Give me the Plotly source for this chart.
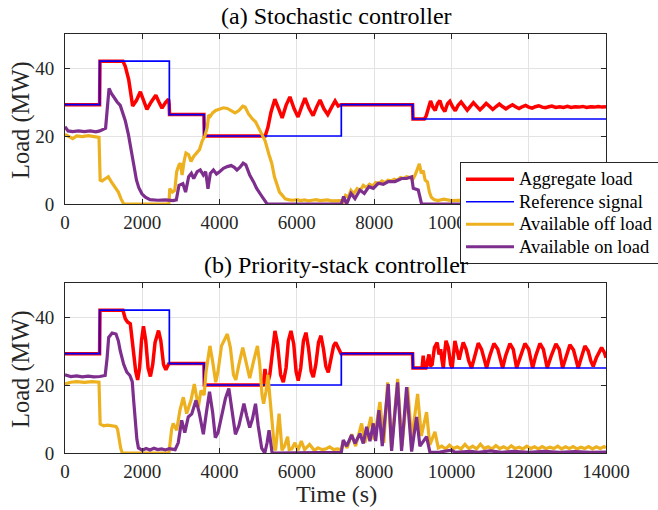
import plotly.graph_objects as go

# ---------------- data ----------------
ref_t = [0, 900, 2700, 3600, 7150, 9000, 14000]
ref_y = [29.2, 42, 26.3, 20, 29.2, 25, 25]

# (a) Stochastic controller
agg_a_t = [0, 895, 905, 1500, 1560, 1650, 1750, 1850, 1950, 2030, 2120, 2230, 2350, 2430, 2510, 2600,
           2680, 2695, 2705, 3595, 3605, 5180, 5250, 5330, 5430, 5530, 5620, 5720, 5820, 5930, 6030,
           6120, 6210, 6320, 6420, 6510, 6600, 6700, 6800, 6900, 6990, 7070, 7145, 8995, 9005, 9300,
           9350, 9400, 9460, 9520, 9580, 9640, 9700, 9760, 9830, 9900, 9960, 10030, 10100, 10170,
           10250, 10330, 10410, 10490, 10570, 10650, 10740, 10820, 10900, 10990, 11070, 11150, 11240,
           11330, 11410, 11490, 11580, 11660, 11750, 11830, 11920, 12000, 12090, 12170, 12260, 12350,
           12430, 12520, 12600, 12700, 12800, 12900, 13000, 13100, 13200, 13300, 13400, 13500, 13600,
           13700, 13800, 13900, 14000]
agg_a_y = [29.2, 29.2, 42, 42, 40.5, 36.5, 28.8, 30.5, 33, 30.5, 27.8, 30, 32, 30, 28.2, 29.8,
           30.8, 29.5, 26.3, 26.3, 20, 20, 22.5, 27, 30.8, 28, 25.3, 29, 31.5, 28, 25.6,
           28.5, 31.1, 28, 26, 28.5, 30.6, 28, 26.3, 28.5, 30.3, 28.8, 29.2, 29.2, 25, 25,
           26, 28, 30.3, 28.5, 27.5, 29.5, 30.4, 28.4, 27.2, 29.5, 30.2, 28.6, 27.4, 29,
           30.0, 28.8, 27.6, 28.7, 29.8, 28.8, 27.7, 28.6, 29.6, 28.7, 27.8, 28.6, 29.4,
           28.6, 28.0, 28.6, 29.2, 28.6, 28.1, 28.6, 29.0, 28.5, 28.2, 28.6, 28.9, 28.5,
           28.3, 28.6, 28.8, 28.4, 28.6, 28.4, 28.7, 28.4, 28.6, 28.5, 28.7, 28.4, 28.6,
           28.5, 28.7, 28.5, 28.6]

off_a_t = [0, 100, 200, 300, 450, 600, 750, 880, 910, 960, 1050, 1120, 1200, 1280, 1380, 1450, 1520,
           2690, 2710, 2780, 2840, 2890, 2950, 2990, 3030, 3080, 3130, 3200, 3260, 3330, 3400, 3480,
           3550, 3620, 3680, 3720, 3760, 3820, 3900, 4000, 4100, 4200, 4300, 4400, 4500, 4600, 4660,
           4750, 4850, 4930, 5050, 5180, 5280, 5350, 5420, 5480, 5550, 5620, 5700, 5800, 5900, 6000,
           6100, 6200, 6300, 6400, 6500, 6600, 6700, 6800, 6900, 7000, 7150, 7200, 7260, 7330, 7400,
           7470, 7560, 7640, 7720, 7800, 7880, 7960, 8040, 8120, 8200, 8280, 8360, 8440, 8520, 8600,
           8680, 8760, 8840, 8920, 9000, 9060, 9120, 9170, 9220, 9270, 9320, 9380, 9430, 9480, 9550,
           9650, 9800, 10000, 10500, 11000, 11500, 12000, 12500, 13000, 13500, 14000]
off_a_y = [20.5, 19.8, 19.2, 20, 19.8, 20.1, 19.8, 19.6, 7, 6.8, 7.5, 8, 6.5, 5, 3.5, 1.5, 0,
           0, 4.5, 3.5, 4, 9.5, 11.5, 12, 8.5, 12.5, 15, 14.5, 12.5, 14, 15, 16,
           18.5, 20, 22.5, 26.2, 25.8, 26.8, 27.5, 28, 28.3, 28.1, 27.5, 26.8, 27.5, 28.8, 28.5,
           26.5, 25, 24.2, 21.5, 18.5, 14.5, 12, 8, 6, 3.5, 2.6, 1.5, 1.2, 1.1, 1.3,
           1, 1.2, 0.9, 1.1, 1.3, 1, 1.1, 1.2, 0.9, 1, 1, 0.5, 2.5, 2, 4,
           3, 4.5, 4, 5.5, 4.8, 5.8, 5.3, 6.3, 6, 6.8, 6.3, 7, 6.8, 7.3, 7,
           7.8, 7.5, 8, 7.8, 7.2, 8.5, 10, 11.8, 9, 9.8, 7, 6.5, 3.5, 2, 1.3,
           1, 1.4, 1, 1.2, 1, 1.1, 1, 1.2, 1, 1.1, 1]

on_a_t = [0, 80, 200, 350, 500, 650, 800, 900, 1050, 1110, 1140, 1200, 1270, 1350, 1430, 1500, 1560,
          1640, 1700, 1780, 1850, 1910, 1990, 2080, 2200, 2400, 2600, 2800, 2880, 2950, 3050, 3120,
          3200, 3270, 3330, 3420, 3500, 3580, 3640, 3700, 3760, 3840, 3920, 4000, 4100, 4200, 4300,
          4380, 4450, 4530, 4610, 4680, 4780, 4880, 4960, 5080, 5200, 5230, 7150, 7210, 7288, 7400,
          7504, 7633, 7745, 7866, 7978, 8107, 8236, 8365, 8538, 8711, 8840, 8970, 9013, 9142, 9228,
          14000]
on_a_y = [22.7, 21.5, 21.3, 21.5, 21.3, 21.5, 21.2, 21.5, 22.3, 30, 34, 32.5, 31.3, 30, 29, 26.5, 24.5,
          20.5, 16.5, 11, 7, 4.8, 3, 2, 1.3, 1.1, 1.2, 1, 1.2, 5.5, 6, 3.5,
          8, 9, 7.5, 9.5, 10, 8.5, 9.5, 4.5, 9, 10, 8.8, 9.5, 10.5, 11, 11.3,
          10.8, 10, 10.8, 12, 11.5, 8.5, 6.5, 4.6, 2.5, 0.3, 0, 0, 2.2, 0, 3.1,
          1.6, 4.1, 3.1, 5.1, 4.6, 6.1, 5.8, 6.6, 6.6, 7.5, 7.5, 8, 4.6, 4.1, 0,
          0]

# (b) Priority-stack controller
agg_b_t = [0, 895, 905, 1500, 1560, 1620, 1690, 1760, 1830, 1880, 1930, 1980, 2030, 2090, 2150, 2210,
           2270, 2330, 2420, 2480, 2550, 2610, 2660, 2695, 2705, 3595, 3605, 5130, 5175, 5233, 5300,
           5360, 5433, 5500, 5580, 5649, 5720, 5780, 5848, 5920, 5980, 6036, 6100, 6170, 6235, 6300,
           6370, 6425, 6490, 6560, 6624, 6690, 6750, 6813, 6880, 6950, 7004, 7060, 7145, 8995, 9005,
           9240, 9270, 9300, 9340, 9380, 9420, 9450, 9500, 9560, 9630, 9680, 9720, 9760, 9790, 9820,
           9860, 9920, 9980, 10020, 10050, 10090, 10150, 10200, 10250, 10306, 10380, 10450, 10522,
           10600, 10694, 10780, 10850, 10910, 10990, 11100, 11200, 11270, 11325, 11400, 11514, 11600,
           11650, 11687, 11790, 11902, 12000, 12060, 12101, 12180, 12290, 12380, 12440, 12479, 12580,
           12704, 12790, 12840, 12876, 12960, 13066, 13160, 13230, 13281, 13360, 13454, 13540, 13610,
           13669, 13750, 13886, 13960, 14000]
agg_b_y = [29.2, 29.2, 42, 42, 39.5, 38.5, 38, 31, 24, 21.5, 25, 33, 37.3, 33, 25, 22.5,
           26, 32.5, 36, 33, 26, 24.5, 26, 26.5, 26.3, 26.3, 20, 20, 24.7, 20, 23,
           30, 35.9, 32, 23, 20.8, 25, 33, 35.9, 32, 24, 21.3, 25, 33, 35.4, 31,
           24, 22.3, 26, 32.5, 34.5, 30.5, 25.5, 23.7, 27, 31.5, 32.5, 31, 29.2, 29.2, 25,
           25, 28.6, 25, 25, 27, 29, 25.5, 26, 31, 32.5, 29, 30.5, 27, 25, 29,
           33, 31, 26, 25, 29, 33, 30, 27.5, 30, 32.5, 30.5, 27, 25,
           28, 32.3, 30.5, 27, 25, 28.5, 32.2, 30.5, 27, 25, 28.5, 32.2, 30.5,
           27, 25, 28.5, 32.2, 30.5, 27, 25, 28.5, 32.2, 30.5, 27, 25, 28.5,
           32.1, 30.5, 27, 25, 28, 31.8, 30.3, 27, 25, 28, 31.5, 30, 27,
           25.5, 28, 31, 29.5, 28]

off_b_t = [0, 150, 300, 500, 700, 880, 910, 1000, 1100, 1200, 1320, 1360, 1390, 1440, 1480, 2690, 2720,
           2760, 2800, 2850, 2890, 2975, 3062, 3148, 3260, 3346, 3450, 3519, 3600, 3650, 3750, 3820,
           3900, 3960, 4050, 4200, 4280, 4360, 4420, 4500, 4600, 4680, 4780, 4880, 4980, 5040, 5100,
           5140, 5200, 5250, 5300, 5350, 5420, 5450, 5500, 5540, 5580, 5615, 5680, 5761, 5800, 5870,
           5950, 6030, 6115, 6200, 6330, 6450, 6550, 6650, 6750, 6850, 6950, 7050, 7150, 7200, 7300,
           7420, 7520, 7676, 7760, 7917, 8000, 8150, 8250, 8349, 8450, 8608, 8720, 8866, 8970, 9125,
           9220, 9357, 9440, 9573, 9660, 9750, 9850, 9950, 10050, 10150, 10250, 10350, 10450, 10550,
           10650, 10750, 10850, 10950, 11050, 11150, 11250, 11350, 11450, 11550, 11650, 11750, 11850,
           11950, 12050, 12150, 12250, 12350, 12450, 12550, 12650, 12750, 12850, 12950, 13050, 13150,
           13250, 13350, 13450, 13550, 13650, 13750, 13850, 13950, 14000]
off_b_y = [20.3, 20.8, 21, 20.8, 21, 20.8, 8.5, 8, 8.2, 8, 7.8, 7, 4.8, 1.5, 0, 0, 3,
           7, 8.7, 7.5, 6.7, 12.6, 16.4, 11.6, 15.5, 20.3, 13.5, 18.4, 17, 24, 31.5, 27,
           20.8, 24, 31.5, 35, 31, 23, 21.5, 26, 31, 27, 22, 27, 31.5, 26, 17,
           14.5, 18, 23, 17, 8.7, 1.5, 0.8, 6, 11.6, 6, 0.8, 2, 4.8, 1, 1.2,
           3, 0.8, 3.5, 1, 2.5, 0.8, 1.5, 1, 1.2, 1.8, 1, 1.2, 1, 3.5, 1.5,
           5.5, 2, 8.7, 3, 10.6, 4, 15, 3, 20.8, 1.5, 21.8, 2, 19.4, 4, 17.4,
           5, 12, 2.4, 6.2, 1.5, 2, 1.2, 2.3, 1.3, 1.8, 1.2, 2.5, 1.3, 2,
           1.2, 2.6, 1.3, 1.8, 1.2, 2.2, 1.3, 1.8, 1.2, 2.1, 1.3, 1.7, 1.2,
           2, 1.3, 1.8, 1.2, 1.9, 1.3, 1.7, 1.3, 2, 1.2, 1.8, 1.3, 1.9,
           1.2, 1.7, 1.3, 1.9, 1.2, 1.8, 1.3, 1.9, 1.5]

on_b_t = [0, 150, 300, 450, 600, 750, 900, 1040, 1090, 1130, 1220, 1320, 1380, 1430, 1520, 1600, 1680,
          1740, 1780, 1820, 1860, 1900, 2000, 2100, 2200, 2300, 2400, 2500, 2600, 2700, 2850, 2930,
          3020, 3100, 3190, 3280, 3390, 3470, 3580, 3660, 3740, 3820, 3890, 3960, 4060, 4150, 4240,
          4320, 4410, 4500, 4630, 4700, 4780, 4850, 4930, 5000, 5090, 5170, 5230, 5280, 5330, 5360,
          7150, 7202, 7288, 7418, 7504, 7633, 7719, 7806, 7892, 7978, 8038, 8124, 8210, 8365, 8452,
          8607, 8710, 8840, 8970, 9099, 9185, 9357, 9444, 9700, 10000, 10100, 10500, 10700, 11000,
          11300, 11600, 12000, 12400, 12800, 13200, 13600, 14000]
on_b_y = [23, 22.5, 22.7, 22.4, 22.6, 22.4, 22.5, 22.8, 28, 34, 35.3, 35, 33, 30, 26, 23.8, 22.8,
          21, 15, 9.6, 4, 1.5, 0.8, 1.3, 0.9, 1.4, 1, 1.2, 0.9, 1.3, 1, 3,
          9.6, 6, 10.6, 11.5, 15.5, 12, 5.5, 12, 18, 12, 4.5, 6, 11, 16, 19,
          13, 5.5, 8, 14.5, 11, 7.5, 10, 14.5, 8, 1.4, 0, 3, 6.7, 2, 0,
          0.2, 3.8, 2, 5.3, 2.8, 5.7, 2.8, 7.7, 3.5, 8.7, 3.5, 12.6, 2, 20.3, 0.6,
          20.8, 0.6, 19.4, 0.4, 10.6, 2, 4.8, 0.2, 0.3, 0.8, 0.2, 0.5, 0.2, 0.6,
          0.2, 0.5, 0.2, 0.5, 0.2, 0.4, 0.2, 0.3]

x_ticks = [0, 2000, 4000, 6000, 8000, 10000, 12000, 14000]
x_tick_labels = ["0", "2000", "4000", "6000", "8000", "10000", "12000", "14000"]
y_ticks = [0, 20, 40]
y_tick_labels = ["0", "20", "40"]

names = ["Aggregate load", "Reference signal", "Available off load", "Available on load"]
colors = ["#FF0000", "#0000FF", "#EDB120", "#7E2F8E"]
widths = [3.5, 1.7, 3.2, 3.2]

FONT = "Liberation Serif"
TXT = "#262626"
LEG_TXT = 18.5   # visible legend text size; row pitch is set by the legend font size

fig = go.Figure()

panels = [
    ("x", "y", agg_a_t, agg_a_y, off_a_t, off_a_y, on_a_t, on_a_y, True),
    ("x2", "y2", agg_b_t, agg_b_y, off_b_t, off_b_y, on_b_t, on_b_y, False),
]
for xa, ya, at, ay, ot, oy, nt, ny, show in panels:
    series = [(at, ay, "linear"), (ref_t, ref_y, "hv"), (ot, oy, "linear"), (nt, ny, "linear")]
    for i, (t, v, shape) in enumerate(series):
        fig.add_trace(go.Scatter(
            x=t, y=v, mode="lines",
            name=f'<span style="font-size:{LEG_TXT}px">{names[i]}</span>',
            xaxis=xa, yaxis=ya,
            line=dict(color=colors[i], width=widths[i], shape=shape),
            showlegend=show,
        ))

axis_common = dict(
    showline=True, linecolor=TXT, linewidth=1, mirror="ticks",
    ticks="inside", ticklen=5, tickcolor=TXT, tickwidth=1,
    showgrid=True, gridcolor="#E3E3E3", gridwidth=1, zeroline=False,
    automargin=False,
    tickfont=dict(family=FONT, size=19, color=TXT),
)

W, H = 658, 510
L, R, T, B = 65, 52, 34, 57
PH = H - T - B  # 419
PW = W - L - R  # 541
dom_top = [249 / PH, 1.0]
dom_bot = [0.0, 170 / PH]


def py(page_y):
    return (H - B - page_y) / PH


def px(page_x):
    return (page_x - L) / PW


fig.update_layout(
    width=W, height=H,
    margin=dict(l=L, r=R, t=T, b=B, autoexpand=False),
    paper_bgcolor="white", plot_bgcolor="white",
    font=dict(family=FONT, color=TXT),
    xaxis=dict(domain=[0, 1], anchor="y", range=[0, 14000], tickvals=x_ticks, ticktext=x_tick_labels,
               ticklabelstandoff=1, **axis_common),
    yaxis=dict(domain=dom_top, anchor="x", range=[0, 50], tickvals=y_ticks, ticktext=y_tick_labels,
               ticklabelstandoff=6, **axis_common),
    xaxis2=dict(domain=[0, 1], anchor="y2", range=[0, 14000], tickvals=x_ticks, ticktext=x_tick_labels,
                ticklabelstandoff=1, **axis_common),
    yaxis2=dict(domain=dom_bot, anchor="x2", range=[0, 50], tickvals=y_ticks, ticktext=y_tick_labels,
                ticklabelstandoff=6, **axis_common),
    legend=dict(
        x=px(460), y=py(162), xanchor="left", yanchor="top",
        bgcolor="white", bordercolor=TXT, borderwidth=1,
        font=dict(family=FONT, size=15, color="#000000"),
        itemwidth=48, tracegroupgap=0,
    ),
    annotations=[
        dict(text="(a) Stochastic controller", x=px(336), y=py(16), xref="paper", yref="paper",
             xanchor="center", yanchor="middle", showarrow=False,
             font=dict(family=FONT, size=24, color="#000000")),
        dict(text="(b) Priority-stack controller", x=px(336), y=py(265), xref="paper", yref="paper",
             xanchor="center", yanchor="middle", showarrow=False,
             font=dict(family=FONT, size=24, color="#000000")),
        dict(text="Time (s)", x=px(336), y=py(494), xref="paper", yref="paper",
             xanchor="center", yanchor="middle", showarrow=False,
             font=dict(family=FONT, size=24, color=TXT)),
        dict(text="Load (MW)", x=px(21), y=py(120), xref="paper", yref="paper",
             xanchor="center", yanchor="middle", showarrow=False, textangle=-90,
             font=dict(family=FONT, size=24.5, color=TXT)),
        dict(text="Load (MW)", x=px(21), y=py(369), xref="paper", yref="paper",
             xanchor="center", yanchor="middle", showarrow=False, textangle=-90,
             font=dict(family=FONT, size=24.5, color=TXT)),
    ],
)

fig.write_html(
    "out.html",
    config={"displayModeBar": False},
    post_script="document.body.style.margin='0';document.body.style.padding='0';"
                "document.body.style.overflow='hidden';",
)
